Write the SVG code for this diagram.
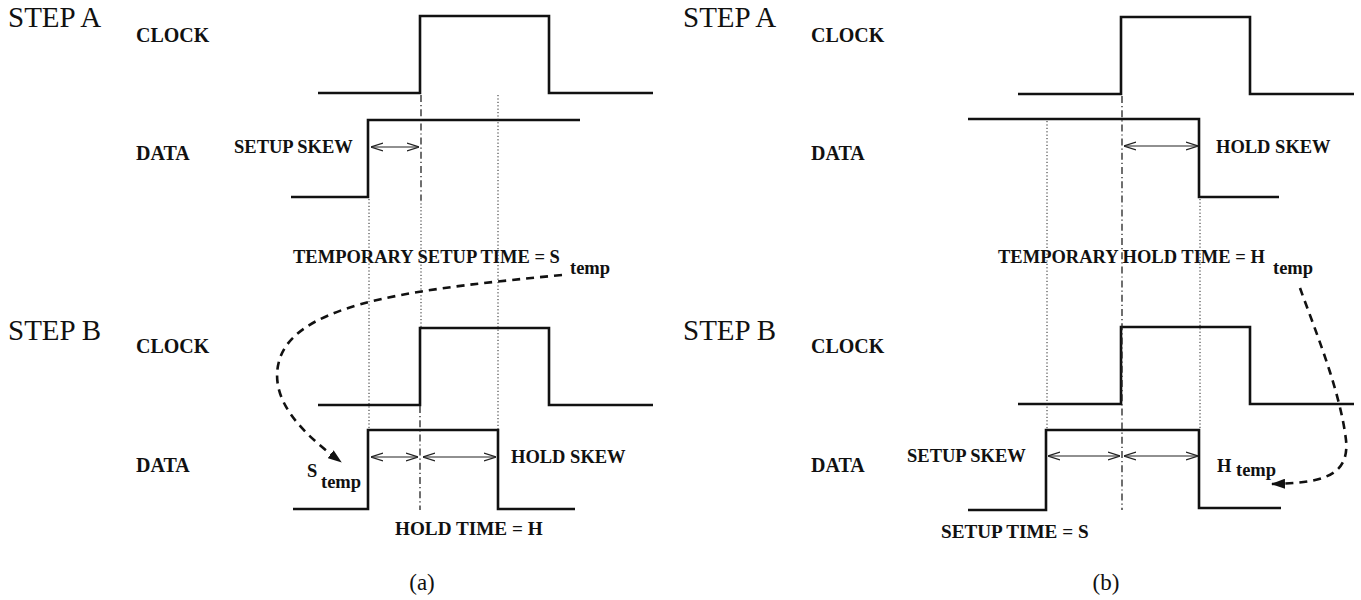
<svg xmlns="http://www.w3.org/2000/svg" width="1361" height="600" viewBox="0 0 1361 600">
<style>
.bg{fill:#fff}
.sig{fill:none;stroke:#111;stroke-width:2.6;stroke-linejoin:miter;stroke-linecap:butt}
.dot{fill:none;stroke:#222;stroke-width:1;stroke-dasharray:1.2 2.2}
.dd{fill:none;stroke:#222;stroke-width:1.3;stroke-dasharray:7 3 1.2 3}
.dim{fill:none;stroke:#222;stroke-width:1.1;marker-start:url(#open);marker-end:url(#open)}
.curve{fill:none;stroke:#111;stroke-width:2.6;stroke-dasharray:8 6;marker-end:url(#solid)}
.step{font-family:"Liberation Serif","Times New Roman",serif;font-size:29px;fill:#111}
.lab{font-family:"Liberation Serif","Times New Roman",serif;font-weight:bold;font-size:20px;fill:#111}
.txt{font-family:"Liberation Serif","Times New Roman",serif;font-weight:bold;font-size:18.5px;fill:#111}
.txt2{font-family:"Liberation Serif","Times New Roman",serif;font-weight:bold;font-size:19.2px;fill:#111}
.cap{font-family:"Liberation Serif","Times New Roman",serif;font-size:23px;fill:#111}
</style>
<defs>
<marker id="open" viewBox="0 0 12 10" refX="12" refY="5" markerWidth="12" markerHeight="10" markerUnits="userSpaceOnUse" orient="auto-start-reverse">
<path d="M0,1 L12,5 L0,9" fill="none" stroke="#222" stroke-width="1.2"/>
</marker>
<marker id="solid" viewBox="0 0 14 10" refX="13" refY="5" markerWidth="14" markerHeight="10" markerUnits="userSpaceOnUse" orient="auto">
<path d="M0,0 L14,5 L0,10 Z" fill="#111"/>
</marker>
</defs>
<rect class="bg" x="0" y="0" width="1361" height="600"/>

<!-- Panel (a) -->
<g id="panel-a">
  <text class="step" x="8" y="27">STEP A</text>
  <text class="step" x="8" y="340">STEP B</text>
  <g id="a-clockA"><text class="lab" x="136" y="42">CLOCK</text><path class="sig" d="M318,93 H420 V16 H549 V93 H653"/></g>
  <g id="a-dataA"><text class="lab" x="136" y="160">DATA</text><path class="sig" d="M291,197 H368 V120 H580"/></g>
  <g id="a-clockB"><text class="lab" x="136" y="353">CLOCK</text><path class="sig" d="M318,405 H420 V328 H549 V405 H653"/></g>
  <g id="a-dataB"><text class="lab" x="136" y="472">DATA</text><path class="sig" d="M293,509 H368 V430 H498 V509 H575"/></g>
  <g id="a-labels">
    <text class="txt" x="234" y="153">SETUP SKEW</text>
    <text class="txt" x="293" y="263">TEMPORARY SETUP TIME = S</text>
    <text class="txt" x="570" y="274">temp</text>
    <text class="txt" x="307" y="477">S</text>
    <text class="txt" x="321" y="488">temp</text>
    <text class="txt" x="511" y="463">HOLD SKEW</text>
    <text class="txt2" x="395" y="535">HOLD TIME = H</text>
    <text class="cap" x="422" y="590" text-anchor="middle">(a)</text>
  </g>
</g>

<!-- Panel (b) -->
<g id="panel-b">
  <text class="step" x="683" y="27">STEP A</text>
  <text class="step" x="683" y="340">STEP B</text>
  <g id="b-clockA"><text class="lab" x="811" y="42">CLOCK</text><path class="sig" d="M1018,94 H1121 V17 H1250 V94 H1354"/></g>
  <g id="b-dataA"><text class="lab" x="811" y="160">DATA</text><path class="sig" d="M968,119 H1199 V197 H1279"/></g>
  <g id="b-clockB"><text class="lab" x="811" y="353">CLOCK</text><path class="sig" d="M1018,404 H1121 V327 H1250 V404 H1354"/></g>
  <g id="b-dataB"><text class="lab" x="811" y="472">DATA</text><path class="sig" d="M968,510 H1046 V430 H1199 V508 H1281"/></g>
  <g id="b-labels">
    <text class="txt" x="1216" y="153">HOLD SKEW</text>
    <text class="txt" x="998" y="263">TEMPORARY HOLD TIME = H</text>
    <text class="txt" x="1273" y="274">temp</text>
    <text class="txt" x="907" y="462">SETUP SKEW</text>
    <text class="txt" x="1217" y="472">H</text>
    <text class="txt" x="1236" y="476">temp</text>
    <text class="txt2" x="941" y="538">SETUP TIME = S</text>
    <text class="cap" x="1106" y="590" text-anchor="middle">(b)</text>
  </g>
</g>

<g id="connectors">
  <!-- (a) guide lines -->
  <path class="dd" d="M421,95 V200"/>
  <path class="dot" d="M421,200 V328"/>
  <path class="dd" d="M420,406 V510"/>
  <path class="dot" d="M369,199 V430"/>
  <path class="dot" d="M498,95 V430"/>
  <!-- (a) dimension arrows -->
  <path class="dim" d="M371,147 H419"/>
  <path class="dim" d="M371,457 H418"/>
  <path class="dim" d="M423,457 H496"/>
  <!-- (a) dashed curve -->
  <path class="curve" d="M562,275 C430,288 300,300 280,358 C266,400 305,435 341,462"/>

  <!-- (b) guide lines -->
  <path class="dd" d="M1122,96 V510"/>
  <path class="dot" d="M1047,121 V430"/>
  <path class="dot" d="M1200,199 V430"/>
  <!-- (b) dimension arrows -->
  <path class="dim" d="M1124,146 H1198"/>
  <path class="dim" d="M1048,456 H1120"/>
  <path class="dim" d="M1124,456 H1198"/>
  <!-- (b) dashed curve -->
  <path class="curve" d="M1300,288 C1315,330 1340,390 1346,440 C1350,478 1318,483 1272,484"/>
</g>
</svg>
